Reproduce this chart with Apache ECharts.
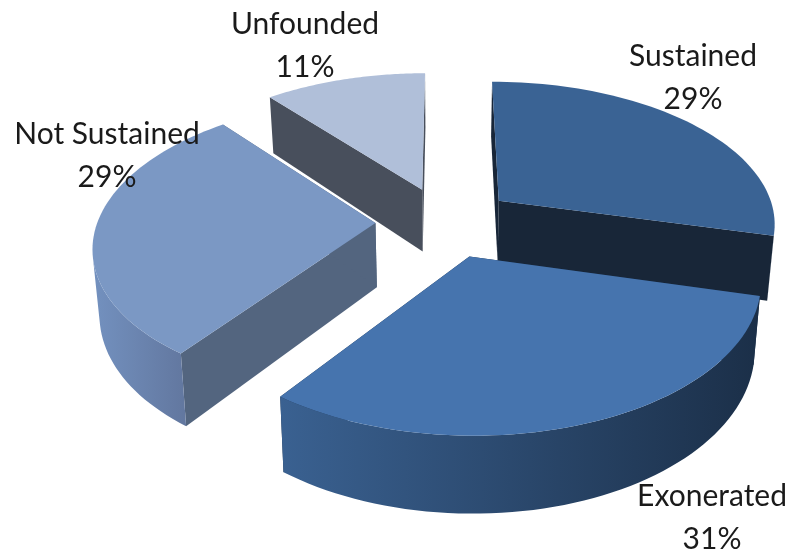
<!DOCTYPE html>
<html>
<head>
<meta charset="utf-8">
<style>
  html, body { margin: 0; padding: 0; background: #fff; }
  #pieChart { width: 791px; height: 556px; }
</style>
</head>
<body>
<div id="pieChart"></div>
<script src="https://cdn.jsdelivr.net/npm/echarts@6/dist/echarts.min.js"></script>
<script>
const categories = ["Sustained", "Exonerated", "Not Sustained", "Unfounded"];
const shares = [29, 31, 29, 11];

// look of each slice: top face, cut faces, outer wall gradient
const topColors = ["#3a6394", "#4674ae", "#7b98c4", "#b0bfd9"];
const cutColors = ["#182638", "#1b2f48", "#53657f", "#484f5c"];
const wallColors = [
  ["#1d3350", "#1d3350"],
  ["#3a6191", "#1b2f48"],
  ["#7391bf", "#62779f"],
  ["#686f7c", "#484f5c"],
];
const labelAnchors = [[693, 78], [712, 518], [107, 156], [305, 46]];

// projection of the tilted pie
const view = { cx: 445, cy: 222, rx: 278, ry: 142, tilt: 0.145, depth: 64, shrink: 0.98, explode: 0.25 };

function project(u, v) {
  const w = 1 - view.tilt * v;
  return { x: view.cx + (view.rx * u) / w, y: view.cy + (view.ry * v) / w, w: w };
}
function topPoint(u, v) {
  const p = project(u, v);
  return [p.x, p.y];
}
function bottomPoint(u, v) {
  const p = project(u, v);
  return [view.cx + (p.x - view.cx) * view.shrink, p.y + view.depth / p.w];
}

function renderSlice(params, api) {
  const i = params.dataIndex;
  const total = shares.reduce((a, b) => a + b, 0);
  const before = shares.slice(0, i).reduce((a, b) => a + b, 0);
  const a0 = (before / total) * Math.PI * 2;
  const a1 = ((before + api.value(0)) / total) * Math.PI * 2;
  const mid = (a0 + a1) / 2;
  const ou = view.explode * Math.sin(mid);
  const ov = -view.explode * Math.cos(mid);

  const rim = [];
  for (let s = 0; s <= 60; s++) {
    const a = a0 + ((a1 - a0) * s) / 60;
    rim.push([ou + Math.sin(a), ov - Math.cos(a)]);
  }
  const first = rim[0];
  const last = rim[rim.length - 1];
  const poly = (pts, fill) => ({
    type: "polygon",
    shape: { points: pts },
    style: { fill: fill, stroke: null },
  });

  // only the part of the outer wall that faces the viewer
  const front = rim.filter((q, s) => {
    const n = rim[Math.min(s + 1, rim.length - 1)];
    const p = rim[Math.max(s - 1, 0)];
    const t0 = topPoint(p[0], p[1]);
    const t1 = topPoint(n[0], n[1]);
    const t = topPoint(q[0], q[1]);
    const b = bottomPoint(q[0], q[1]);
    return (t1[0] - t0[0]) * (b[1] - t[1]) - (t1[1] - t0[1]) * (b[0] - t[0]) < 0;
  });

  const children = [
    poly([topPoint(ou, ov), topPoint(first[0], first[1]), bottomPoint(first[0], first[1]), bottomPoint(ou, ov)], cutColors[i]),
    poly([topPoint(ou, ov), topPoint(last[0], last[1]), bottomPoint(last[0], last[1]), bottomPoint(ou, ov)], cutColors[i]),
  ];
  if (front.length > 1) {
    const wall = front.map((q) => topPoint(q[0], q[1]))
      .concat(front.slice().reverse().map((q) => bottomPoint(q[0], q[1])));
    children.push(poly(wall, new echarts.graphic.LinearGradient(0, 0, 1, 0, [
      { offset: 0, color: wallColors[i][0] },
      { offset: 1, color: wallColors[i][1] },
    ])));
  }
  children.push(poly([topPoint(ou, ov)].concat(rim.map((q) => topPoint(q[0], q[1]))), topColors[i]));
  children.push({
    type: "text",
    style: {
      text: categories[i] + "\n" + api.value(0) + "%",
      x: labelAnchors[i][0],
      y: labelAnchors[i][1],
      align: "center",
      verticalAlign: "middle",
      fontFamily: "Lato",
      fontSize: 30,
      lineHeight: 43,
      fill: "#1a1a1a",
    },
  });

  return { type: "group", children: children };
}

let myChart = echarts.init(document.getElementById("pieChart"), null, { renderer: "canvas" });
myChart.setOption({
  animation: false,
  backgroundColor: "#fff",
  series: [
    {
      type: "custom",
      coordinateSystem: "none",
      renderItem: renderSlice,
      data: shares.map((v, i) => ({ name: categories[i], value: [v] })),
    },
  ],
});
</script>
</body>
</html>
